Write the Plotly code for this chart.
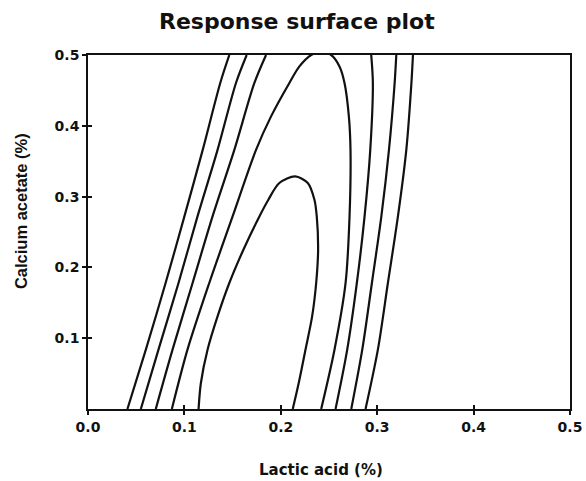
import plotly.graph_objects as go

# ---- data (Lactic acid %, Calcium acetate %) ----
rows_y = [0.0, 0.0838, 0.178, 0.272, 0.366, 0.4605, 0.5]

c1_x = [0.0409, 0.0600, 0.0805, 0.1000, 0.1190, 0.1372, 0.1466]
c1_y = rows_y

c2_x = [0.0548, 0.0731, 0.0939, 0.1136, 0.1344, 0.1535, 0.1646]
c2_y = rows_y

c3_x = [0.0703, 0.0877, 0.1085, 0.1292, 0.1518, 0.1726, 0.1847]
c3_y = rows_y

# second contour: rises from the bottom, peaks just at the top edge, returns
c4_x = [0.0870, 0.1032, 0.1258, 0.1500, 0.1743, 0.1899, 0.2089, 0.2193, 0.2315,
        0.2420,
        0.2523, 0.2609, 0.2661, 0.2706, 0.2723, 0.2713, 0.2672, 0.2557, 0.2419]
c4_y = [0.0, 0.0838, 0.178, 0.272, 0.366, 0.4133, 0.4605, 0.4839, 0.5,
        0.504,
        0.5, 0.4839, 0.4605, 0.4133, 0.366, 0.272, 0.178, 0.0838, 0.0]

inner_x = [0.1147, 0.1171, 0.1240, 0.1344, 0.1466, 0.1612, 0.1778, 0.1871,
           0.1985, 0.2149, 0.2280, 0.2349, 0.2373, 0.2387, 0.2367, 0.2325,
           0.2256, 0.2186, 0.2124]
inner_y = [0.0, 0.0367, 0.0838, 0.1308, 0.178, 0.225, 0.272, 0.2956,
           0.3192, 0.3285, 0.3192, 0.2956, 0.272, 0.225, 0.178, 0.1308,
           0.0838, 0.0367, 0.0]

c5_x = [0.2568, 0.2689, 0.2789, 0.2869, 0.2928, 0.2955, 0.2938]
c5_y = rows_y

c6_x = [0.2731, 0.2845, 0.2945, 0.3043, 0.3122, 0.3181, 0.3198]
c6_y = rows_y

c7_x = [0.2879, 0.3007, 0.3111, 0.3215, 0.3302, 0.3355, 0.3371]
c7_y = rows_y

x_ticks = [0.0, 0.1, 0.2, 0.3, 0.4, 0.5]
x_tick_labels = ["0.0", "0.1", "0.2", "0.3", "0.4", "0.5"]
y_ticks = [0.1, 0.2, 0.3, 0.4, 0.5]
y_tick_labels = ["0.1", "0.2", "0.3", "0.4", "0.5"]

title_text = "Response surface plot"
x_title = "Lactic acid (%)"
y_title = "Calcium acetate (%)"

curves = [(c1_x, c1_y), (c2_x, c2_y), (c3_x, c3_y), (c4_x, c4_y),
          (inner_x, inner_y), (c5_x, c5_y), (c6_x, c6_y), (c7_x, c7_y)]

fig = go.Figure()
for cx, cy in curves:
    fig.add_trace(go.Scatter(
        x=cx, y=cy, mode="lines",
        line=dict(color="#111111", width=2.2, shape="spline", smoothing=0.85),
        showlegend=False, hoverinfo="skip"))

# invisible trace on overlay axes to draw the inward half of the crossing ticks
fig.add_trace(go.Scatter(x=[None], y=[None], xaxis="x2", yaxis="y2",
                         mode="lines", showlegend=False, hoverinfo="skip"))

hfont = "DejaVu Sans, Liberation Sans, Arial, sans-serif"
vfont = "Liberation Sans, Arial, sans-serif"

axis_common = dict(showgrid=False, zeroline=False, showline=True, automargin=False,
                   linecolor="#111111", linewidth=1.6, tickcolor="#111111",
                   tickwidth=1.5)

fig.update_layout(
    width=586, height=481, autosize=False,
    margin=dict(l=88, r=16, t=55, b=72),
    paper_bgcolor="white", plot_bgcolor="white",
    xaxis=dict(range=[0, 0.5], tickvals=x_ticks, ticktext=x_tick_labels,
               ticks="outside", ticklen=4, mirror=True,
               tickfont=dict(family=hfont, size=14, color="#111111", weight="bold"),
               **axis_common),
    yaxis=dict(range=[0, 0.5], tickvals=y_ticks, ticktext=y_tick_labels,
               ticks="outside", ticklen=4, mirror=True,
               tickfont=dict(family=hfont, size=14, color="#111111", weight="bold"),
               **axis_common),
    xaxis2=dict(range=[0, 0.5], tickvals=x_ticks, overlaying="x", anchor="y2",
                ticks="inside", ticklen=4, showticklabels=False,
                **axis_common),
    yaxis2=dict(range=[0, 0.5], tickvals=y_ticks, overlaying="y", anchor="x2",
                ticks="inside", ticklen=4, showticklabels=False,
                **axis_common),
    annotations=[
        dict(text=title_text, xref="paper", yref="paper", x=0.4336, y=1.096,
             xanchor="center", yanchor="middle", showarrow=False,
             font=dict(family=hfont, size=22, color="#111111", weight="bold")),
        dict(text=x_title, xref="paper", yref="paper", x=0.483, y=-0.172,
             xanchor="center", yanchor="middle", showarrow=False,
             font=dict(family=hfont, size=15, color="#111111", weight="bold")),
        dict(text=y_title, xref="paper", yref="paper", x=-0.139, y=0.559,
             xanchor="center", yanchor="middle", showarrow=False, textangle=-90,
             font=dict(family=vfont, size=16.5, color="#111111", weight="bold")),
    ],
)

# remove the default page margin so the figure sits at the window's corner
fig.write_html("out.html", config={"displayModeBar": False, "responsive": False},
               post_script="document.body.style.margin='0';")
